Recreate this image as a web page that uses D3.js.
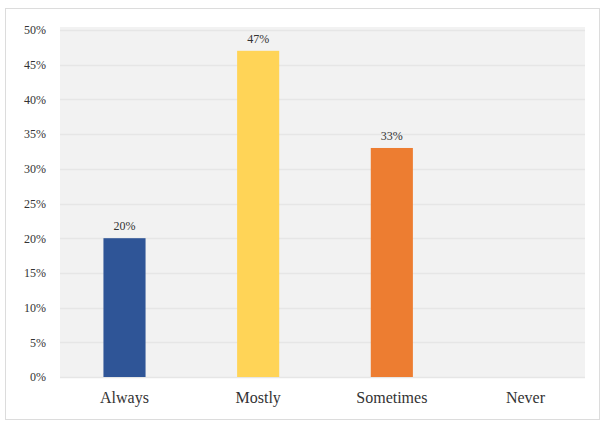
<!DOCTYPE html>
<html>
<head>
<meta charset="utf-8">
<script src="https://cdn.jsdelivr.net/npm/d3@7"></script>
<style>
  body { margin: 0; background: #fff; }
  text { font-family: "Liberation Serif", "Times New Roman", serif; }
</style>
</head>
<body>
<div id="chart"></div>
<script>
const categories = ["Always", "Mostly", "Sometimes", "Never"];
const values = [20, 47, 33, 0];
const barColors = ["#2f5597", "#ffd457", "#ed7d31", "#a5a5a5"];
const yTicks = [0, 5, 10, 15, 20, 25, 30, 35, 40, 45, 50];

function renderChart () {
    const wSvg = 604;
    const hSvg = 421;
    const plotLeft = 60;
    const plotRight = 585;
    const plotTop = 27;
    const plotBottom = 377;

    let svg = d3.select("#chart")
        .append("svg")
        .attr("width", wSvg)
        .attr("height", hSvg)
        .style("background-color", "white");

    // outer frame
    svg.append("rect")
        .attr("x", 5.5)
        .attr("y", 8.5)
        .attr("width", 594)
        .attr("height", 411)
        .attr("fill", "white")
        .attr("stroke", "#dcdcdc");

    // plot background
    svg.append("rect")
        .attr("x", plotLeft)
        .attr("y", plotTop)
        .attr("width", plotRight - plotLeft)
        .attr("height", plotBottom - plotTop)
        .attr("fill", "#f2f2f2");

    let yScale = d3.scaleLinear([0, 50], [plotBottom, 30]);
    let xScale = d3.scaleBand(categories, [58, 592]).paddingInner(0.685).paddingOuter(0.34);

    // gridlines
    svg.append("g")
        .selectAll("line")
        .data(yTicks)
        .enter()
        .append("line")
        .attr("x1", plotLeft)
        .attr("x2", plotRight)
        .attr("y1", d => Math.round(yScale(d)) + 0.5)
        .attr("y2", d => Math.round(yScale(d)) + 0.5)
        .attr("stroke", "#e6e6e6")
        .attr("stroke-width", 1.5);

    let yAxis = d3.axisLeft(yScale).tickValues(yTicks).tickFormat(d => d + "%").tickSize(0).tickPadding(0);
    let yG = svg.append("g")
        .attr("transform", `translate(46, 0)`)
        .call(yAxis);
    yG.select(".domain").remove();
    yG.selectAll("text")
        .attr("fill", "#333333")
        .style("font-size", "12px")
        .style("font-family", "'Liberation Serif', serif");

    // bars
    svg.append("g")
        .selectAll("rect")
        .data(values)
        .enter()
        .append("rect")
        .attr("x", (d, i) => xScale(categories[i]))
        .attr("width", xScale.bandwidth())
        .attr("y", d => yScale(d))
        .attr("height", d => plotBottom - yScale(d))
        .attr("fill", (d, i) => barColors[i]);

    // data labels
    svg.append("g")
        .selectAll("text")
        .data(values)
        .enter()
        .filter(d => d > 0)
        .append("text")
        .attr("x", (d, i) => xScale(categories[values.indexOf(d)]) + xScale.bandwidth() / 2)
        .attr("y", d => yScale(d) - 8)
        .attr("text-anchor", "middle")
        .attr("fill", "#333333")
        .style("font-size", "12px")
        .text(d => d + "%");

    let xAxis = d3.axisBottom(xScale).tickSize(0).tickPadding(0);
    let xG = svg.append("g")
        .attr("transform", `translate(0, 392)`)
        .call(xAxis);
    xG.select(".domain").remove();
    xG.selectAll("text")
        .attr("fill", "#333333")
        .style("font-size", "16px")
        .style("font-family", "'Liberation Serif', serif");
}

renderChart();
</script>
</body>
</html>
